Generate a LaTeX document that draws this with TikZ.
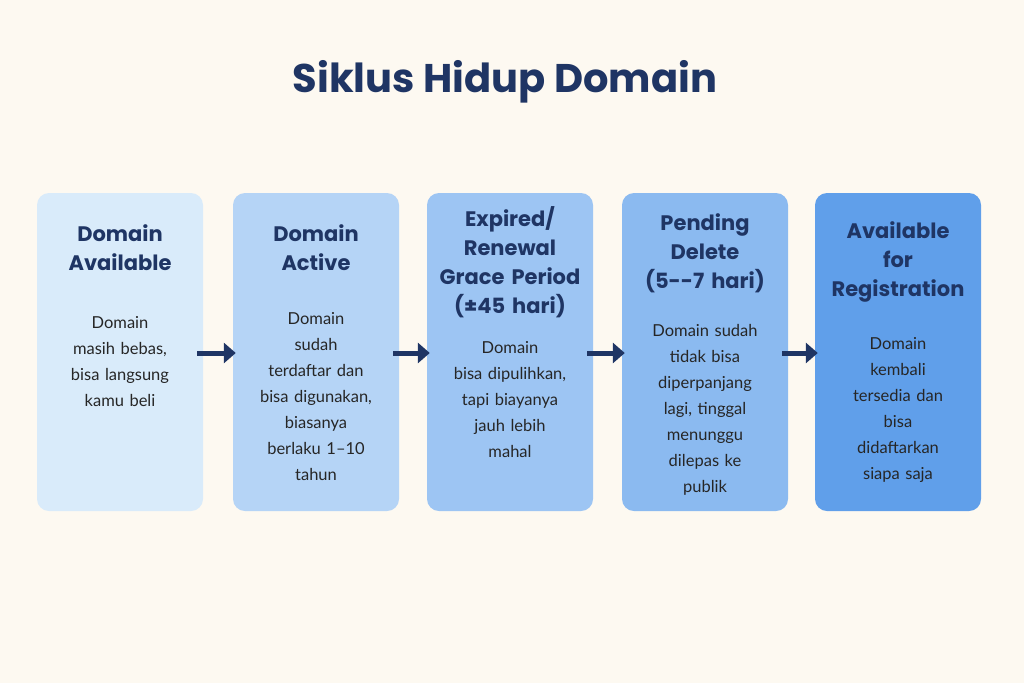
\documentclass[tikz,border=0pt]{standalone}
\usepackage{fontspec}
\setmainfont{Lato}
\newfontfamily\headfont{Poppins}
\usetikzlibrary{positioning,arrows.meta}
\definecolor{bgcream}{HTML}{FDF9F1}
\definecolor{navy}{HTML}{1F3564}
\definecolor{stepa}{HTML}{D9EBFA}
\definecolor{stepb}{HTML}{B5D4F6}
\definecolor{stepc}{HTML}{9DC5F3}
\definecolor{stepd}{HTML}{8BBAF0}
\definecolor{stepe}{HTML}{609FEA}
\tikzset{
    stagebox/.style={rounded corners=12pt, minimum width=166pt, minimum height=318pt, draw=none},
    stagehead/.style={font=\headfont\fontsize{21}{29}\selectfont\bfseries, text=navy, align=center, text width=160pt},
    stagebody/.style={font=\fontsize{16.5}{26}\selectfont, text=black!85, align=center, text width=150pt},
    flowarrow/.style={-{Triangle[length=12pt,width=20pt]}, line width=5pt, draw=navy},
}
\begin{document}
\begin{tikzpicture}[x=1pt,y=-1pt]
\useasboundingbox[fill=bgcream] (0,0) rectangle (1024,683);

\node[font=\headfont\fontsize{40}{48}\selectfont\bfseries, text=navy] (title) at (505,82) {Siklus Hidup Domain};

\node[stagebox, fill=stepa] (avail) at (120,352) {};
\node[stagebox, fill=stepb] (active) at (316,352) {};
\node[stagebox, fill=stepc] (grace) at (510,352) {};
\node[stagebox, fill=stepd] (pending) at (705,352) {};
\node[stagebox, fill=stepe] (regist) at (898,352) {};

\node[stagehead] at (120,248) {Domain\\Available};
\node[stagebody] at (120,362) {Domain\\masih bebas,\\bisa langsung\\kamu beli};

\node[stagehead] at (316,248) {Domain\\Active};
\node[stagebody] at (316,397) {Domain\\sudah\\terdaftar dan\\bisa digunakan,\\biasanya\\berlaku 1--10\\tahun};

\node[stagehead] at (510,262) {Expired/\\Renewal\\Grace Period\\(±45 hari)};
\node[stagebody] at (510,400) {Domain\\bisa dipulihkan,\\tapi biayanya\\jauh lebih\\mahal};

\node[stagehead] at (705,253) {Pending\\Delete\\(5--7 hari)};
\node[stagebody] at (705,410) {Domain sudah\\tidak bisa\\diperpanjang\\lagi, tinggal\\menunggu\\dilepas ke\\publik};

\node[stagehead] at (898,262) {Available\\for\\Registration};
\node[stagebody] at (898,410) {Domain\\kembali\\tersedia dan\\bisa\\didaftarkan\\siapa saja};

\draw[flowarrow] ([xshift=-6pt]avail.east |- 0,353) -- ([xshift=3pt]active.west |- 0,353);
\draw[flowarrow] ([xshift=-6pt]active.east |- 0,353) -- ([xshift=3pt]grace.west |- 0,353);
\draw[flowarrow] ([xshift=-6pt]grace.east |- 0,353) -- ([xshift=3pt]pending.west |- 0,353);
\draw[flowarrow] ([xshift=-6pt]pending.east |- 0,353) -- ([xshift=3pt]regist.west |- 0,353);
\end{tikzpicture}
\end{document}
